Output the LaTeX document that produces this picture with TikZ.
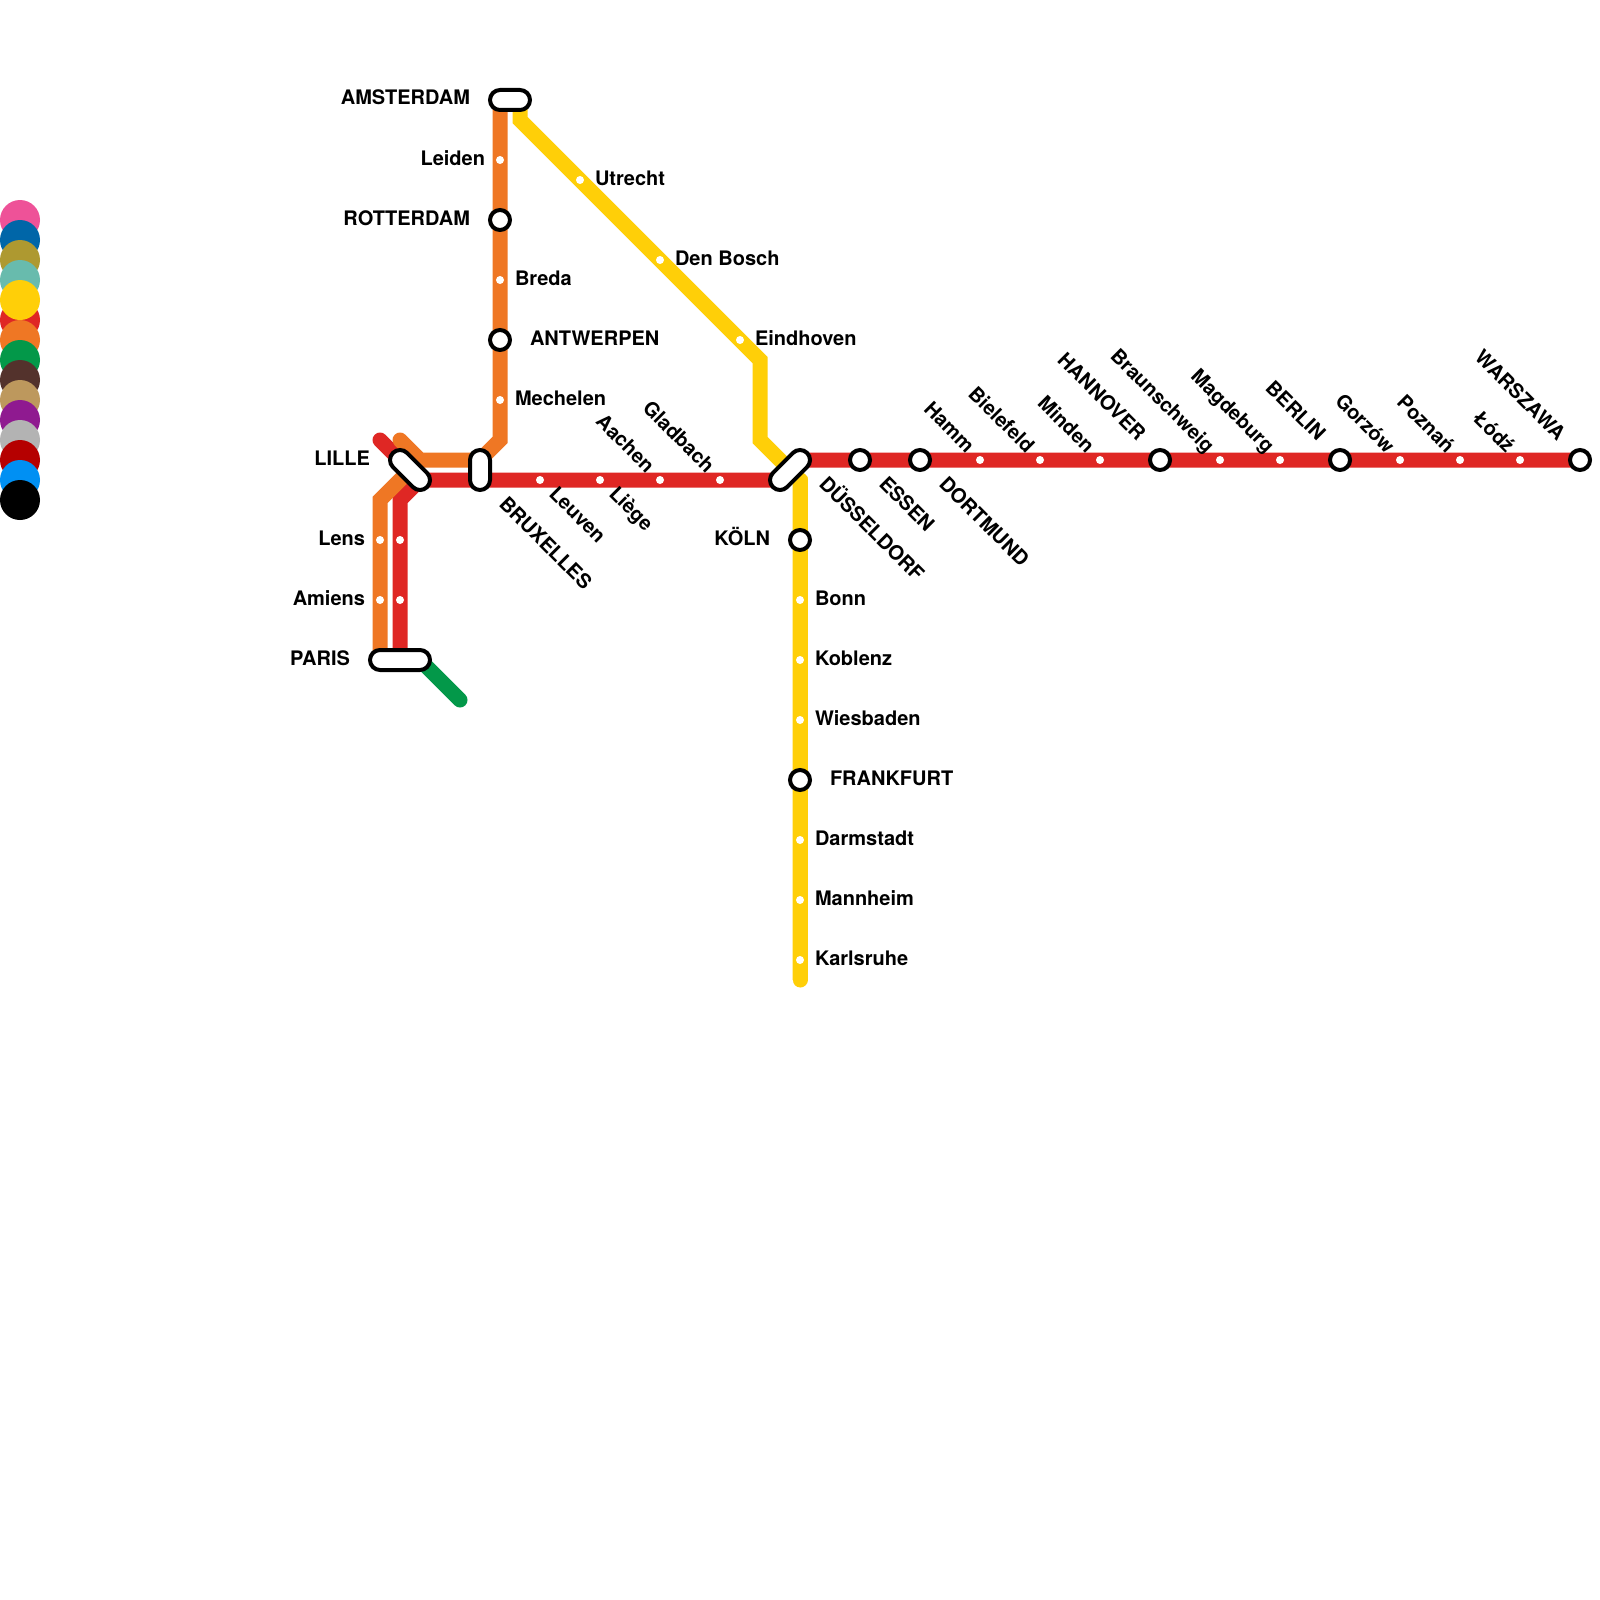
\documentclass[tikz,border=0pt]{standalone}
\usepackage{fontspec}
\setmainfont{TeX Gyre Heros}
\usetikzlibrary{shapes.misc}
\definecolor{cpink}{HTML}{EE5298}
\definecolor{cblue}{HTML}{0066A8}
\definecolor{colive}{HTML}{AE9930}
\definecolor{cteal}{HTML}{68BBAD}
\definecolor{cyellow}{HTML}{FFCF08}
\definecolor{cred}{HTML}{DF2724}
\definecolor{corange}{HTML}{EF7724}
\definecolor{cgreen}{HTML}{039849}
\definecolor{cbrown}{HTML}{53322C}
\definecolor{ctan}{HTML}{BD985D}
\definecolor{cpurple}{HTML}{8F1A90}
\definecolor{cgray}{HTML}{B3B3B3}
\definecolor{cdred}{HTML}{B50000}
\definecolor{clblue}{HTML}{0090F3}
\tikzset{
  x=1pt,y=-1pt,
  metro/.style={line width=15pt,line join=miter,line cap=round},
  disc/.style={circle,inner sep=0pt,minimum size=40pt,outer sep=0pt,fill=#1},
  stop/.style={circle,inner sep=0pt,minimum size=8pt,outer sep=0pt,fill=white},
  major/.style={circle,inner sep=0pt,minimum size=20pt,outer sep=0pt,fill=white,draw=black,line width=4pt},
  pill/.style={rounded rectangle,inner sep=0pt,minimum height=20pt,minimum width=#1,outer sep=0pt,fill=white,draw=black,line width=4pt},
  lab/.style={inner sep=0pt,outer sep=0pt,font=\fontsize{20}{24}\selectfont\bfseries},
  labE/.style={lab,anchor=base west},
  labW/.style={lab,anchor=base east},
  labSE/.style={lab,anchor=base west,rotate=-45},
  labNW/.style={lab,anchor=base east,rotate=-45},
}
\begin{document}
\begin{tikzpicture}
\useasboundingbox (0,0) rectangle (1600,1600);
\fill[white] (0,0) rectangle (1600,1600);
% legend discs
\node[disc=cpink] (d1) at (20,220) {};
\node[disc=cblue] (d2) at (20,240) {};
\node[disc=colive] (d3) at (20,260) {};
\node[disc=cteal] (d4) at (20,280) {};
\node[disc=cred] (d6) at (20,320) {};
\node[disc=cyellow] (d5) at (20,300) {};
\node[disc=corange] (d7) at (20,340) {};
\node[disc=cgreen] (d8) at (20,360) {};
\node[disc=cbrown] (d9) at (20,380) {};
\node[disc=ctan] (d10) at (20,400) {};
\node[disc=cpurple] (d11) at (20,420) {};
\node[disc=cgray] (d12) at (20,440) {};
\node[disc=cdred] (d13) at (20,460) {};
\node[disc=clblue] (d14) at (20,480) {};
\node[disc=black] (d15) at (20,500) {};
% route points
\coordinate (rA) at (380,440);
\coordinate (rB) at (420,480);
\coordinate (rC) at (780,480);
\coordinate (rD) at (800,460);
\coordinate (rE) at (1580,460);
\coordinate (rF) at (400,660);
\coordinate (rG) at (400,500);
\coordinate (oA) at (380,660);
\coordinate (oB) at (380,500);
\coordinate (oC) at (410,470);
\coordinate (oD) at (400,440);
\coordinate (oE) at (420,460);
\coordinate (oF) at (480,460);
\coordinate (oG) at (500,440);
\coordinate (oH) at (500,100);
\coordinate (gA) at (420,660);
\coordinate (gB) at (460,700);
\coordinate (yA) at (520,100);
\coordinate (yB) at (520,120);
\coordinate (yC) at (760,360);
\coordinate (yD) at (760,440);
\coordinate (yE) at (800,480);
\coordinate (yF) at (800,980);
% lines
\draw[metro,cgreen] (gA) -- (gB);
\draw[metro,cyellow,line cap=butt] (yA) -- (yB) -- (yC) -- (yD) -- (yE) -- (yF);
\draw[metro,cyellow] (yE) -- (yF);
\draw[metro,cred] (rA) -- (rB) -- (rC) -- (rD) -- (rE);
\draw[metro,cred] (rF) -- (rG) -- (rB);
\draw[metro,corange] (oA) -- (oB) -- (oC);
\draw[metro,corange] (oD) -- (oE) -- (oF) -- (oG) -- (oH);
% small stops
\foreach \n/\x/\y in {leiden/500/160,breda/500/280,mechelen/500/400,utrecht/580/180,denbosch/660/260,eindhoven/740/340,leuven/540/480,liege/600/480,aachen/660/480,gladbach/720/480,hamm/980/460,bielefeld/1040/460,minden/1100/460,braunschweig/1220/460,magdeburg/1280/460,gorzow/1400/460,poznan/1460/460,lodz/1520/460,bonn/800/600,koblenz/800/660,wiesbaden/800/720,darmstadt/800/840,mannheim/800/900,karlsruhe/800/960,lensO/380/540,lensR/400/540,amiensO/380/600,amiensR/400/600}
  {\node[stop] (\n) at (\x,\y) {};}
% interchange stations
\foreach \n/\x/\y in {rotterdam/500/220,antwerpen/500/340,essen/860/460,dortmund/920/460,hannover/1160/460,berlin/1340/460,warszawa/1580/460,koln/800/540,frankfurt/800/780}
  {\node[major] (\n) at (\x,\y) {};}
\node[pill=40pt] (amsterdam) at (510,100) {};
\node[pill=48.28pt,rotate=-45] (lille) at (410,470) {};
\node[pill=40pt,rotate=90] (bruxelles) at (480,470) {};
\node[pill=60pt] (paris) at (400,660) {};
\node[pill=48.28pt,rotate=45] (dusseldorf) at (790,470) {};
% labels
\node[labW] (tAms) at (470,105) {AMSTERDAM};
\node[labW] (tLei) at (485,165) {Leiden};
\node[labW] (tRot) at (470,225) {ROTTERDAM};
\node[labE] (tBre) at (515,285) {Breda};
\node[labE] (tAnt) at (530,345) {ANTWERPEN};
\node[labE] (tMec) at (515,405) {Mechelen};
\node[labE] (tUtr) at (595,185) {Utrecht};
\node[labE] (tDen) at (675,265) {Den Bosch};
\node[labE] (tEin) at (755,345) {Eindhoven};
\node[labW] (tLil) at (370,465) {LILLE};
\node[labW] (tLen) at (365,545) {Lens};
\node[labW] (tAmi) at (365,605) {Amiens};
\node[labW] (tPar) at (350,665) {PARIS};
\node[labW] (tKol) at (770,545) {KÖLN};
\node[labE] (tBon) at (815,605) {Bonn};
\node[labE] (tKob) at (815,665) {Koblenz};
\node[labE] (tWie) at (815,725) {Wiesbaden};
\node[labE] (tFra) at (830,785) {FRANKFURT};
\node[labE] (tDar) at (815,845) {Darmstadt};
\node[labE] (tMan) at (815,905) {Mannheim};
\node[labE] (tKar) at (815,965) {Karlsruhe};
% rotated labels below the line
\node[labSE] (tBru) at (498,505) {BRUXELLES};
\node[labSE] (tLeu) at (548,495) {Leuven};
\node[labSE] (tLie) at (608,495) {Liège};
\node[labSE] (tDus) at (818,485) {DÜSSELDORF};
\node[labSE] (tEss) at (878,485) {ESSEN};
\node[labSE] (tDor) at (938,485) {DORTMUND};
% rotated labels above the line
\node[labNW] (tAac) at (646,474) {Aachen};
\node[labNW] (tGla) at (706,474) {Gladbach};
\node[labNW] (tHam) at (966,454) {Hamm};
\node[labNW] (tBie) at (1026,454) {Bielefeld};
\node[labNW] (tMin) at (1086,454) {Minden};
\node[labNW] (tHan) at (1137,442) {HANNOVER};
\node[labNW] (tBra) at (1206,454) {Braunschweig};
\node[labNW] (tMag) at (1266,454) {Magdeburg};
\node[labNW] (tBer) at (1317,442) {BERLIN};
\node[labNW] (tGor) at (1386,454) {Gorzów};
\node[labNW] (tPoz) at (1446,454) {Poznań};
\node[labNW] (tLod) at (1506,454) {Łódź};
\node[labNW] (tWar) at (1557,442) {WARSZAWA};
\end{tikzpicture}
\end{document}
